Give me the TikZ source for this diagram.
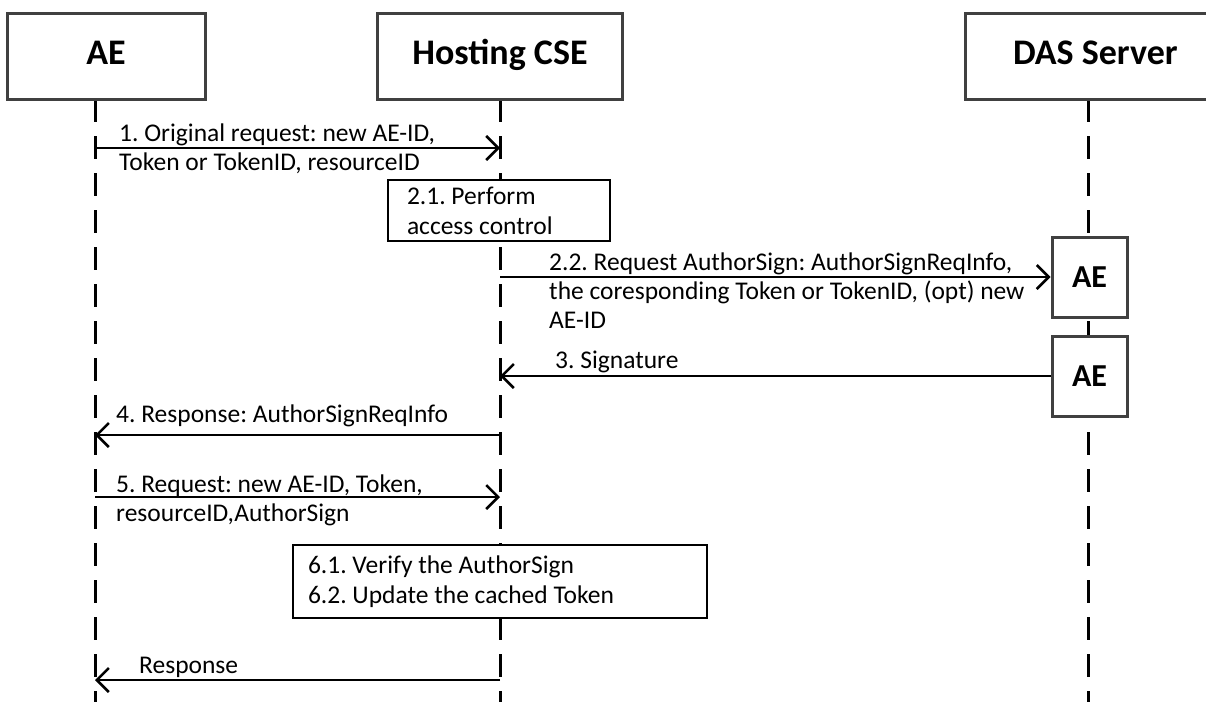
\documentclass[tikz,border=0pt]{standalone}
\usepackage{fontspec}
\setmainfont{Carlito}
\usetikzlibrary{arrows.meta}

\tikzset{
  actor/.style={draw=black!75, line width=3pt, fill=white, minimum height=86pt,
    text height=24pt, text depth=8pt, execute at begin node={\spaceskip 0pt\relax},
    font=\frenchspacing\bfseries\fontsize{36}{42}\selectfont},
  aebox/.style={draw=black!75, line width=3pt, fill=white, minimum width=75pt,
    minimum height=80pt, font=\bfseries\fontsize{32}{38}\selectfont},
  note/.style={draw, line width=2.5pt, fill=white, align=left,
    execute at begin node={\spaceskip 0pt\relax},
    font=\frenchspacing\fontsize{25.5}{30}\selectfont},
  lifeline/.style={line width=3pt, dash pattern=on 23pt off 14pt},
  msg/.style={line width=2.5pt, -{Straight Barb[length=12pt,width=24pt]}},
  lbl/.style={anchor=base west, align=left, inner sep=0pt,
    font=\frenchspacing\fontsize{25.5}{29}\selectfont}
}

\begin{document}
\begin{tikzpicture}[x=1pt,y=-1pt]
 \useasboundingbox (0,0) rectangle (1206,702);
 \coordinate (aeTop) at (95,99);
 \coordinate (aeEnd) at (95,702);
 \coordinate (cseTop) at (500,99);
 \coordinate (cseEnd) at (500,702);
 \coordinate (dasTop) at (1088,99);
 \coordinate (dasEnd) at (1088,702);

\draw[lifeline] (aeTop) -- (aeEnd);
\draw[lifeline] (cseTop) -- (cseEnd);
\draw[lifeline] (dasTop) -- (dasEnd);

\node[actor, minimum width=198pt] (ae) at (106,56) {AE};
\node[actor, minimum width=245pt] (cse) at (500,56) {Hosting CSE};
\node[actor, minimum width=290pt, text width=194pt, inner xsep=48pt, align=left]
  (das) at (1110,56) {DAS Server};

\node[aebox] (ae1) at (1089.5,277) {AE};
\node[aebox] (ae2) at (1089.5,376) {AE};

\node[note, minimum width=222pt, minimum height=61pt, text width=184pt, inner xsep=19pt]
  (ac) at (499,210.5) {2.1. Perform\\access control};
\node[note, minimum width=414pt, minimum height=73pt, text width=384pt, inner xsep=15pt]
  (vf) at (500,581.5) {6.1. Verify the AuthorSign\\6.2. Update the cached Token};

 \coordinate (m1s) at (95,148);
 \coordinate (m1e) at (500,148);
 \coordinate (m2s) at (500,277);
 \coordinate (m3e) at (500,376);
 \coordinate (m4s) at (500,435);
 \coordinate (m4e) at (95,435);
 \coordinate (m5s) at (95,497);
 \coordinate (m5e) at (500,497);
 \coordinate (m6s) at (500,680);
 \coordinate (m6e) at (95,680);

\draw[msg] (m1s) -- (m1e);
\draw[msg] (m2s) -- (ae1.west);
\draw[msg] (ae2.west) -- (m3e);
\draw[msg] (m4s) -- (m4e);
\draw[msg] (m5s) -- (m5e);
\draw[msg] (m6s) -- (m6e);

\node[lbl] (l1) at (119,170) {1. Original request: new AE-ID,\\Token or TokenID, resourceID};
\node[lbl] (l2) at (549,328) {2.2. Request AuthorSign: AuthorSignReqInfo,\\the coresponding Token or TokenID, (opt) new\\AE-ID};
\node[lbl] (l3) at (555,368) {3. Signature};
\node[lbl] (l4) at (116,422) {4. Response: AuthorSignReqInfo};
\node[lbl] (l5) at (116,521) {5. Request: new AE-ID, Token,\\resourceID,AuthorSign};
\node[lbl] (l6) at (139,673) {Response};
  \end{tikzpicture}
\end{document}
